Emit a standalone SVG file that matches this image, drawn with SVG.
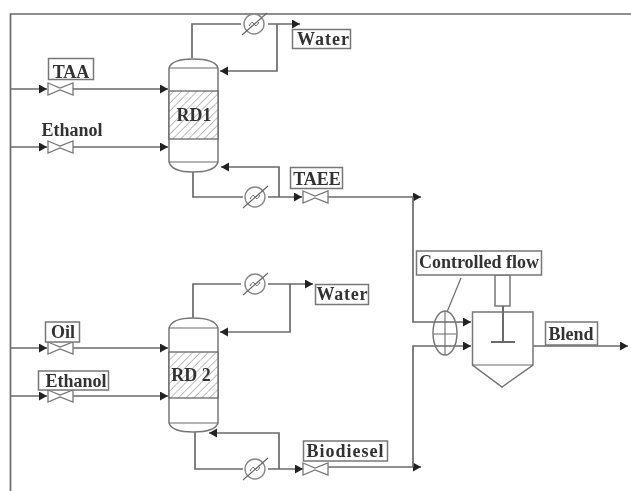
<svg xmlns="http://www.w3.org/2000/svg" width="631" height="491" viewBox="0 0 631 491">
<style>
.l{fill:none;stroke:#6a6a6a;stroke-width:1.7}
.b{fill:#fff;stroke:#777;stroke-width:1.5}
.h{fill:url(#hatch);stroke:#666;stroke-width:1.3}
.t{font-family:"Liberation Serif",serif;font-weight:bold;font-size:18px;fill:#333;text-anchor:middle}
</style>
<defs>
<marker id="a" markerUnits="userSpaceOnUse" markerWidth="9" markerHeight="10" refX="8" refY="4.500" orient="auto"><path d="M0 0L8 4.500L0 9Z" fill="#222"/></marker>
<pattern id="hatch" patternUnits="userSpaceOnUse" width="5.500" height="8" patternTransform="rotate(45)"><rect width="5.500" height="8" fill="#fff"/><line x1="0" y1="0" x2="0" y2="8" stroke="#aaa" stroke-width="1.5"/></pattern>
<filter id="s" x="-2%" y="-2%" width="104%" height="104%"><feGaussianBlur stdDeviation="0.6"/></filter>
<g id="v"><path d="M0 -6L12 -1L25 -6V6L12 1L0 6Z" fill="#fff" stroke="#777" stroke-width="1.3"/></g>
<g id="x"><circle r="10" fill="#fff" stroke="#888" stroke-width="1.4"/><path d="M-12 11L13 -11" stroke="#666" stroke-width="1.2" fill="none"/><path d="M-5 2Q-2 -4 0 0T5 -2" stroke="#666" fill="none"/></g>
</defs>
<rect width="631" height="491" fill="#fff"/>
<g filter="url(#s)">
<g id="connectors">
<path class="l" d="M631 14H10.500V491"/>
<path class="l" d="M11 89H47" marker-end="url(#a)"/>
<path class="l" d="M73 89H168" marker-end="url(#a)"/>
<path class="l" d="M11 147H47" marker-end="url(#a)"/>
<path class="l" d="M73 147H168" marker-end="url(#a)"/>
<path class="l" d="M192 58V24H241M268 24H300" marker-end="url(#a)"/>
<path class="l" d="M277 24V71H220" marker-end="url(#a)"/>
<path class="l" d="M193 172V197H243M268 197H302" marker-end="url(#a)"/>
<path class="l" d="M279 197V167H221" marker-end="url(#a)"/>
<path class="l" d="M328 197H421" marker-end="url(#a)"/>
<path class="l" d="M413 197V322H471" marker-end="url(#a)"/>
<path class="l" d="M11 348H47" marker-end="url(#a)"/>
<path class="l" d="M73 348H168" marker-end="url(#a)"/>
<path class="l" d="M11 396H47" marker-end="url(#a)"/>
<path class="l" d="M73 396H168" marker-end="url(#a)"/>
<path class="l" d="M193 318V284H241M268 284H313" marker-end="url(#a)"/>
<path class="l" d="M290 284V332H220" marker-end="url(#a)"/>
<path class="l" d="M195 432V469H243M268 469H303" marker-end="url(#a)"/>
<path class="l" d="M279 469V433H209" marker-end="url(#a)"/>
<path class="l" d="M328 467H421" marker-end="url(#a)"/>
<path class="l" d="M413 467V346H471" marker-end="url(#a)"/>
<path class="l" d="M533 346H628" marker-end="url(#a)"/>
<path class="l" d="M461 278L447 312" style="stroke-width:1.2"/>
</g>
<g id="rd1">
<path class="b" d="M169 68Q172 59 193 59Q215 59 218 68V162Q215 172 193 172Q172 172 169 162Z"/>
<path class="l" d="M169 68H218M169 162H218" style="stroke-width:1.2"/>
<rect class="h" x="169" y="91" width="49" height="48"/>
<text class="t" x="194" y="121">RD1</text>
</g>
<g id="rd2">
<path class="b" d="M169 328Q172 318 193 318Q215 318 218 328V423Q215 432 193 432Q172 432 169 423Z"/>
<path class="l" d="M169 328H218M169 423H218" style="stroke-width:1.2"/>
<rect class="h" x="169" y="352" width="49" height="46"/>
<text class="t" x="191" y="381">RD 2</text>
</g>
<g id="hx1"><use href="#x" x="254" y="24"/></g>
<g id="hx2"><use href="#x" x="255" y="197"/></g>
<g id="hx3"><use href="#x" x="255" y="284"/></g>
<g id="hx4"><use href="#x" x="255" y="469"/></g>
<g id="v1"><use href="#v" x="48" y="89"/></g>
<g id="v2"><use href="#v" x="48" y="147"/></g>
<g id="v3"><use href="#v" x="303" y="197"/></g>
<g id="v4"><use href="#v" x="48" y="348"/></g>
<g id="v5"><use href="#v" x="48" y="396"/></g>
<g id="v6"><use href="#v" x="303" y="469"/></g>
<g id="water1"><rect class="b" x="292.500" y="29.500" width="58" height="19"/><text class="t" x="323" y="45" textLength="52">Water</text></g>
<g id="taa"><rect class="b" x="48.500" y="58.500" width="45" height="21"/><text class="t" x="71" y="78">TAA</text></g>
<g id="ethanol1"><text class="t" x="72" y="136">Ethanol</text></g>
<g id="taee"><rect class="b" x="290.500" y="167.500" width="52" height="21"/><text class="t" x="317" y="185">TAEE</text></g>
<g id="water2"><rect class="b" x="315.500" y="284.500" width="53" height="20"/><text class="t" x="342" y="300" textLength="51">Water</text></g>
<g id="oil"><rect class="b" x="45.500" y="322" width="34" height="20"/><text class="t" x="63" y="338">Oil</text></g>
<g id="ethanol2"><rect class="b" x="38.500" y="371" width="70" height="19"/><text class="t" x="76" y="387">Ethanol</text></g>
<g id="biodiesel"><rect class="b" x="303.500" y="441" width="84" height="20"/><text class="t" x="345" y="457" textLength="77">Biodiesel</text></g>
<g id="flowmeter"><ellipse class="b" cx="445" cy="333" rx="12" ry="22" style="fill:none"/><path class="l" d="M445 311V355M434 334H456" style="stroke-width:1.1"/></g>
<g id="mixer">
<path class="b" d="M472.500 312H533V365L502 387L472.500 365Z"/>
<path class="l" d="M472.500 365H533" style="stroke-width:1.1"/>
<rect class="b" x="495" y="275" width="15" height="31"/>
<path class="l" d="M503 306V342M491 342H515" style="stroke-width:2"/>
</g>
<g id="controlled"><rect class="b" x="416.500" y="251" width="125" height="24"/><text class="t" x="479" y="268">Controlled flow</text></g>
<g id="blend"><rect class="b" x="545.500" y="322" width="52" height="23"/><text class="t" x="571" y="340">Blend</text></g>
</g>
</svg>
